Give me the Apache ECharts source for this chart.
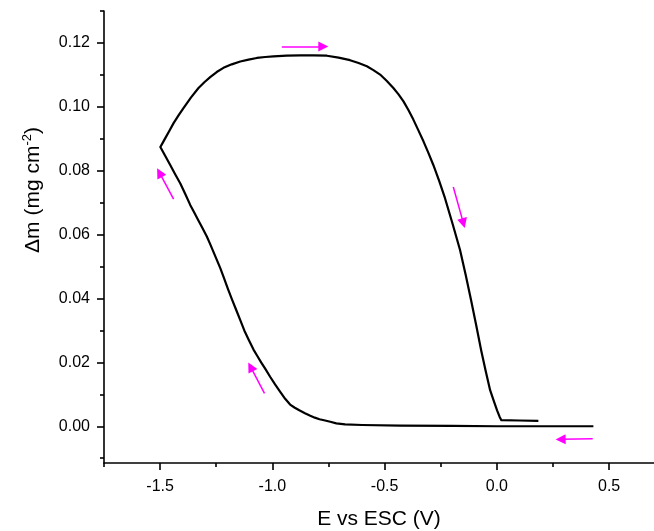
<!DOCTYPE html>
<html>
<head>
<meta charset="utf-8">
<script src="https://cdn.jsdelivr.net/npm/echarts@6/dist/echarts.min.js"></script>
<style>
html,body{margin:0;padding:0;background:#fff;}
#chart{width:654px;height:531px;}
</style>
</head>
<body>
<div id="chart"></div>
<script>
// ---- data ----
const potential = [0.43, 0.30, 0.10, 0.00, -0.20, -0.43, -0.60, -0.676, -0.715, -0.742, -0.765, -0.79, -0.811, -0.831, -0.855, -0.88, -0.900, -0.921, -0.943, -0.965, -0.988, -1.010, -1.030, -1.05, -1.067, -1.084, -1.105, -1.125, -1.143, -1.161, -1.180, -1.198, -1.215, -1.232, -1.247, -1.262, -1.277, -1.292, -1.311, -1.330, -1.348, -1.366, -1.388, -1.410, -1.433, -1.455, -1.477, -1.499,
  -1.488, -1.477, -1.458, -1.440, -1.418, -1.396, -1.363, -1.329, -1.303, -1.277, -1.248, -1.218, -1.181, -1.143, -1.106, -1.069, -1.032, -0.995, -0.936, -0.876, -0.816, -0.757, -0.705, -0.654, -0.616, -0.579, -0.550, -0.520, -0.490, -0.461, -0.438, -0.416, -0.394, -0.372, -0.350, -0.327, -0.305, -0.283, -0.257, -0.231, -0.197, -0.164, -0.139, -0.115, -0.092, -0.070, -0.050, -0.030, -0.013, 0.001, 0.012, 0.020, 0.100, 0.185];
const massChange = [0.0000, 0.0000, 0.0000, 0.0000, 0.0001, 0.0002, 0.0004, 0.0006, 0.0009, 0.0014, 0.0018, 0.0022, 0.0027, 0.0033, 0.0041, 0.0050, 0.0058, 0.0068, 0.0086, 0.0108, 0.0131, 0.0155, 0.0178, 0.0200, 0.0220, 0.0240, 0.0270, 0.0300, 0.0332, 0.0364, 0.0397, 0.0430, 0.0463, 0.0495, 0.0520, 0.0545, 0.0570, 0.0594, 0.0620, 0.0645, 0.0669, 0.0693, 0.0727, 0.0760, 0.0789, 0.0818, 0.0846, 0.0874,
  0.0888, 0.0902, 0.0926, 0.0949, 0.0973, 0.0996, 0.1029, 0.1059, 0.1077, 0.1093, 0.1109, 0.1122, 0.1133, 0.1142, 0.1148, 0.1153, 0.1156, 0.1158, 0.1160, 0.1161, 0.1161, 0.1160, 0.1154, 0.1146, 0.1137, 0.1127, 0.1115, 0.1101, 0.1081, 0.1059, 0.1039, 0.1017, 0.0990, 0.0960, 0.0927, 0.0892, 0.0856, 0.0818, 0.0768, 0.0714, 0.0633, 0.0552, 0.0474, 0.0395, 0.0316, 0.0238, 0.0174, 0.0113, 0.0078, 0.0050, 0.0030, 0.0019, 0.0018, 0.0017];

// scan-direction arrows (data units)
const arrowStartX = [-0.958, -0.194, 0.427, -1.035, -1.440];
const arrowStartY = [0.1189, 0.0749, -0.0039, 0.0103, 0.0711];
const arrowEndX   = [-0.773, -0.149, 0.284, -1.097, -1.503];
const arrowEndY   = [0.1189, 0.0636, -0.0041, 0.0186, 0.0794];

const xMajorTicks = [-1.5, -1.0, -0.5, 0.0, 0.5];
const xMinorTicks = [-1.75, -1.25, -0.75, -0.25, 0.25];
const yMajorTicks = [0.00, 0.02, 0.04, 0.06, 0.08, 0.10, 0.12];
const yMinorTicks = [-0.01, 0.01, 0.03, 0.05, 0.07, 0.09, 0.11, 0.13];

const xRange = [-1.75, 0.70];
const yRange = [-0.0115, 0.13];

const xTitle = 'E vs ESC (V)';
const yTitleMain = 'Δm (mg cm';
const yTitleSup = '-2';

// ---- build ----
const loopData = potential.map((x, i) => [x, massChange[i]]);
const arrowData = arrowStartX.map((x, i) => ({coords: [[x, arrowStartY[i]], [arrowEndX[i], arrowEndY[i]]]}));

const font = 'Arial, "Liberation Sans", sans-serif';
const tickStyle = {color: '#000', width: 1.6};

const chart = echarts.init(document.getElementById('chart'), null, {renderer: 'canvas'});
chart.setOption({
  animation: false,
  backgroundColor: '#fff',
  grid: {left: 104, right: 0, top: 11, bottom: 68, containLabel: false, outerBoundsMode: 'none'},
  xAxis: [
    {
      type: 'value', min: xRange[0], max: xRange[1], position: 'bottom',
      axisLine: {show: true, onZero: false, lineStyle: {color: '#000', width: 1.6}},
      splitLine: {show: false},
      axisTick: {show: true, inside: false, length: 7, customValues: xMajorTicks, lineStyle: tickStyle},
      axisLabel: {show: true, customValues: xMajorTicks, margin: 16, color: '#000', fontSize: 16, fontFamily: font,
        formatter: v => v.toFixed(1)},
      name: xTitle, nameLocation: 'middle', nameGap: 46,
      nameTextStyle: {color: '#000', fontSize: 21, fontFamily: font}
    },
    {
      type: 'value', min: xRange[0], max: xRange[1], position: 'bottom',
      axisLine: {show: false, onZero: false}, splitLine: {show: false},
      axisTick: {show: true, inside: false, length: 4, customValues: xMinorTicks, lineStyle: tickStyle},
      axisLabel: {show: false}
    }
  ],
  yAxis: [
    {
      type: 'value', min: yRange[0], max: yRange[1], position: 'left',
      axisLine: {show: true, onZero: false, lineStyle: {color: '#000', width: 1.6}},
      splitLine: {show: false},
      axisTick: {show: true, inside: false, length: 7, customValues: yMajorTicks, lineStyle: tickStyle},
      axisLabel: {show: true, customValues: yMajorTicks, margin: 14, color: '#000', fontSize: 16, fontFamily: font,
        formatter: v => v.toFixed(2)}
    },
    {
      type: 'value', min: yRange[0], max: yRange[1], position: 'left',
      axisLine: {show: false, onZero: false}, splitLine: {show: false},
      axisTick: {show: true, inside: false, length: 4, customValues: yMinorTicks, lineStyle: tickStyle},
      axisLabel: {show: false}
    }
  ],
  graphic: [{
    type: 'text', x: 33, y: 190, rotation: Math.PI / 2,
    style: {
      text: '{a|' + yTitleMain + '}{s|' + yTitleSup + '}{a|)}',
      align: 'center', verticalAlign: 'middle',
      rich: {
        a: {fontSize: 21, fontFamily: font, fill: '#000', lineHeight: 24},
        s: {fontSize: 13, fontFamily: font, fill: '#000', lineHeight: 13, verticalAlign: 'top'}
      }
    }
  }],
  series: [
    {
      type: 'line', xAxisIndex: 0, yAxisIndex: 0,
      data: loopData, showSymbol: false, symbol: 'none', smooth: false,
      lineStyle: {color: '#000', width: 2.2, join: 'round'}, silent: true
    },
    {
      type: 'lines', coordinateSystem: 'cartesian2d', xAxisIndex: 0, yAxisIndex: 0,
      data: arrowData, symbol: ['none', 'triangle'], symbolSize: 10,
      lineStyle: {color: '#ff00ff', width: 1.5, opacity: 1}, silent: true
    }
  ]
});
</script>
</body>
</html>
